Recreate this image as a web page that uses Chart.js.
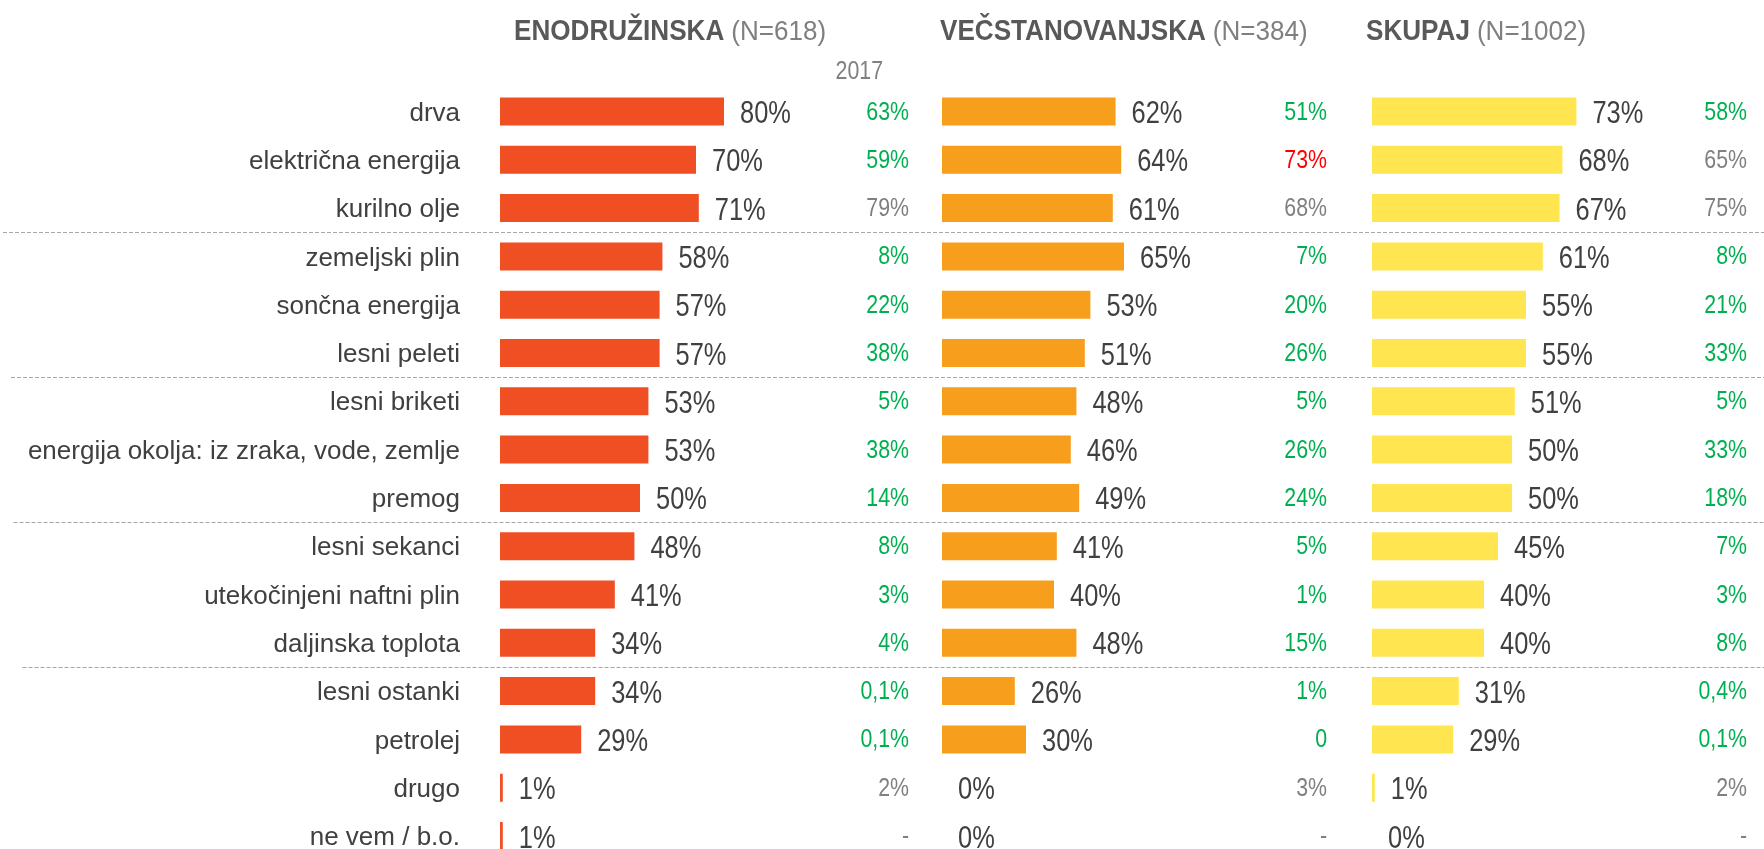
<!DOCTYPE html>
<html><head><meta charset="utf-8">
<script src="https://cdn.jsdelivr.net/npm/chart.js@4.4.1/dist/chart.umd.min.js"></script>
<style>
html,body{margin:0;padding:0;background:#fff;overflow:hidden;width:1764px;height:849px;}
#wrap{position:relative;width:1764px;height:849px;overflow:hidden;background:#fff;}
canvas{position:absolute;top:0;}
</style></head><body>
<div id="wrap">
<canvas id="c1" width="1764" height="880" style="left:0px"></canvas>
<canvas id="c2" width="450" height="880" style="left:900px"></canvas>
<canvas id="c3" width="434" height="880" style="left:1330px"></canvas>
</div>
<script>
// ---------- DATA ----------
const categories = ["drva","električna energija","kurilno olje","zemeljski plin","sončna energija","lesni peleti","lesni briketi","energija okolja: iz zraka, vode, zemlje","premog","lesni sekanci","utekočinjeni naftni plin","daljinska toplota","lesni ostanki","petrolej","drugo","ne vem / b.o."];

const valuesEno   = [80,70,71,58,57,57,53,53,50,48,41,34,34,29,1,1];
const valuesVec   = [62,64,61,65,53,51,48,46,49,41,40,48,26,30,0,0];
const valuesSkup  = [73,68,67,61,55,55,51,50,50,45,40,40,31,29,1,0];

const prevEno  = ["63%","59%","79%","8%","22%","38%","5%","38%","14%","8%","3%","4%","0,1%","0,1%","2%","-"];
const prevVec  = ["51%","73%","68%","7%","20%","26%","5%","26%","24%","5%","1%","15%","1%","0","3%","-"];
const prevSkup = ["58%","65%","75%","8%","21%","33%","5%","33%","18%","7%","3%","8%","0,4%","0,1%","2%","-"];

// g = higher than 2017 (green), n = neutral (grey), r = lower (red)
const trendEno  = ["g","g","n","g","g","g","g","g","g","g","g","g","g","g","n","n"];
const trendVec  = ["g","r","n","g","g","g","g","g","g","g","g","g","g","g","n","n"];
const trendSkup = ["g","n","n","g","g","g","g","g","g","g","g","g","g","g","n","n"];

const panelTitles = ["ENODRUŽINSKA","VEČSTANOVANJSKA","SKUPAJ"];
const panelN = ["(N=618)","(N=384)","(N=1002)"];
const prevYearLabel = "2017";
const groupEnds = [2,5,8,11]; // separator after these category indices

// ---------- STYLE ----------
const FONT = '"Liberation Sans", Arial, sans-serif';
const trendColors = {g:"#00b050", n:"#808080", r:"#ff0000"};
const barColors = ["#f04f23","#f89e1d","#ffe54f"];
const sepStarts = [3,11,13.5,22.5];

function drawText(ctx, text, x, y, font, sx, align, color){
  ctx.save();
  ctx.translate(x, y);
  ctx.scale(sx, 1);
  ctx.font = font;
  ctx.textAlign = align;
  ctx.textBaseline = "alphabetic";
  ctx.fillStyle = color;
  ctx.fillText(text, 0, 0);
  ctx.restore();
}

function makePanelPlugin(p){
  return {
    id: "panel" + p.idx,
    beforeDatasetsDraw(chart){
      if (!p.separators) return;
      const ctx = chart.ctx, y = chart.scales.y;
      ctx.save();
      ctx.strokeStyle = "#a6a6a6";
      ctx.lineWidth = 1;
      ctx.setLineDash([4,2]);
      groupEnds.forEach((g, k) => {
        const yy = Math.round((y.getPixelForValue(g) + y.getPixelForValue(g+1)) / 2) + 0.5;
        ctx.beginPath();
        ctx.moveTo(sepStarts[k], yy);
        ctx.lineTo(chart.width, yy);
        ctx.stroke();
      });
      ctx.restore();
    },
    afterDatasetsDraw(chart){
      const ctx = chart.ctx, x = chart.scales.x, y = chart.scales.y;
      const left = chart.chartArea.left;
      // value labels
      p.values.forEach((v, i) => {
        drawText(ctx, v + "%", x.getPixelForValue(v) + 16, y.getPixelForValue(i) + 11.5,
          "31px " + FONT, 0.82, "left", "#404040");
      });
      // 2017 column
      p.prev.forEach((t, i) => {
        drawText(ctx, t, left + p.prevRight, y.getPixelForValue(i) + 8,
          "26px " + FONT, 0.82, "right", trendColors[p.trend[i]]);
      });
      if (p.showYear) {
        drawText(ctx, prevYearLabel, left + p.prevRight - 26, 79, "26px " + FONT, 0.82, "right", "#808080");
      }
      // header
      const hx = left + p.headerDx, hy = 40;
      ctx.save();
      ctx.font = "bold 29px " + FONT;
      const w = ctx.measureText(panelTitles[p.idx]).width * 0.9;
      ctx.restore();
      drawText(ctx, panelTitles[p.idx], hx, hy, "bold 29px " + FONT, 0.9, "left", "#595959");
      drawText(ctx, panelN[p.idx], hx + w + 7, hy, "28px " + FONT, 0.93, "left", "#7f7f7f");
    }
  };
}

const TOP = 87.35, CANVAS_H = 880, ROWS = categories.length, PITCH = 48.3;
const BOTTOM_PAD = CANVAS_H - (TOP + ROWS * PITCH);

function makeChart(id, p){
  const ctx = document.getElementById(id);
  return new Chart(ctx, {
    type: "bar",
    data: {
      labels: categories,
      datasets: [{
        data: p.values,
        backgroundColor: barColors[p.idx],
        borderWidth: 0,
        inflateAmount: 0,
        barThickness: 28
      }]
    },
    options: {
      indexAxis: "y",
      responsive: false,
      animation: false,
      devicePixelRatio: 1,
      layout: { padding: { top: TOP, bottom: BOTTOM_PAD, left: p.padLeft, right: p.padRight } },
      plugins: { legend: { display: false }, tooltip: { enabled: false } },
      scales: {
        x: { min: 0, max: 100, display: false, grid: { display: false } },
        y: p.showLabels ? {
          display: true,
          grid: { display: false, drawTicks: false },
          border: { display: false },
          ticks: { color: "#404040", font: { family: FONT, size: 26 }, padding: 40, labelOffset: 2, autoSkip: false },
          afterFit(axis){ axis.width = 500; axis.paddingTop = 0; axis.paddingBottom = 0; }
        } : { display: false, grid: { display: false } }
      }
    },
    plugins: [makePanelPlugin(p)]
  });
}

makeChart("c1", { idx:0, values: valuesEno, prev: prevEno, trend: trendEno, padLeft: 0, padRight: 1764 - 780,
  showLabels: true, separators: true, prevRight: 409, headerDx: 14, showYear: true });
makeChart("c2", { idx:1, values: valuesVec, prev: prevVec, trend: trendVec, padLeft: 42, padRight: 128,
  showLabels: false, separators: false, prevRight: 385, headerDx: -2, showYear: false });
makeChart("c3", { idx:2, values: valuesSkup, prev: prevSkup, trend: trendSkup, padLeft: 42, padRight: 112,
  showLabels: false, separators: false, prevRight: 375, headerDx: -6, showYear: false });
</script>
</body></html>
